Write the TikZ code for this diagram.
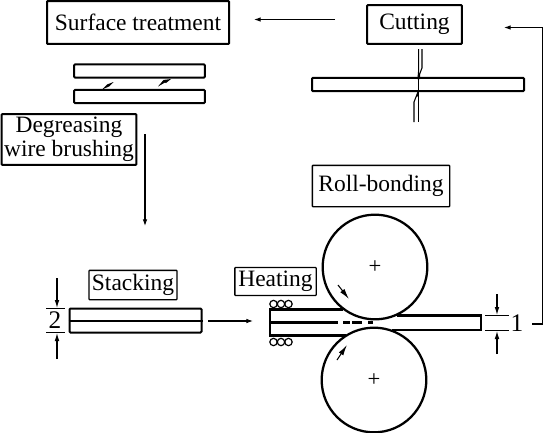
\documentclass[tikz,border=0pt]{standalone}
\usepackage{fontspec}
\setmainfont{Liberation Serif}
\usetikzlibrary{arrows.meta}
\tikzset{
  x=0.75pt,y=-0.75pt,
  lbl/.style={draw,line width=1.5pt,rounded corners=0.5pt,inner sep=0pt,anchor=center,font=\fontsize{17.6}{18}\selectfont,align=center},
  lblthin/.style={lbl,line width=1pt},
  plate/.style={draw,line width=1.5pt,rounded corners=0.8pt,inner sep=0pt},
  conn/.style={line width=0.8pt,-{Latex[length=5pt,width=3.5pt]}},
  tick/.style={line width=0.7pt},
  dim/.style={line width=0.8pt,-{Latex[length=6pt,width=3.5pt]}},
  roll/.style={draw,line width=1.7pt,circle,inner sep=0pt,minimum size=78.5pt},
  coil/.style={draw,line width=0.9pt,fill=white,circle,minimum size=5.5pt,inner sep=0pt},
  num/.style={inner sep=0pt,font=\fontsize{19}{19}\selectfont},
  cross/.style={inner sep=0pt,font=\fontsize{17}{17}\selectfont},
  slab/.style={line width=1.7pt}
}
\begin{document}
\begin{tikzpicture}
\useasboundingbox (0,0) rectangle (544,433);
% label boxes
\node[lbl,minimum width=136.5pt,minimum height=32pt] (st) at (138,22.5) {Surface treatment};
\node[lbl,minimum width=71pt,minimum height=29pt] (cut) at (414.5,24.5) {Cutting};
\node[lbl,minimum width=101pt,minimum height=38pt] (deg) at (69,139.5) {Degreasing\\wire brushing};
\node[lblthin,minimum width=103pt,minimum height=31pt] (rb) at (381,186) {Roll-bonding};
\node[lblthin,minimum width=66pt,minimum height=22pt] (stk) at (133,285) {Stacking};
\node[lblthin,minimum width=61pt,minimum height=21pt] (heat) at (275.5,281.5) {Heating};
% cleaned plates
\node[plate,minimum width=98pt,minimum height=10pt] (p1) at (139.5,71) {};
\node[plate,minimum width=98pt,minimum height=10pt] (p2) at (139.5,96.5) {};
\fill (102,89.5) -- (107,84.5) -- (113.5,82) -- (109,86.5) -- cycle;
\fill (158,86.5) -- (163.5,80) -- (171,79) -- (166,83) -- (165,82.5) -- cycle;
% cut plate and blades
\node[plate,minimum width=159pt,minimum height=10pt] (p3) at (418,84.5) {};
\draw[line width=0.8pt] (418.7,49) -- (418.7,70) -- (418,78);
\draw[line width=0.8pt] (422,49) -- (422,68) -- (418,78);
\draw[line width=0.8pt] (418.5,78) -- (418.5,122);
\draw[line width=0.8pt] (414,122) -- (414,102) -- (418,92);
\fill (417,79) -- (420,73) -- (420,79) -- cycle;
\fill (416,97) -- (418.5,90) -- (418.5,96) -- cycle;
% process arrows
\coordinate (a1) at (335,19.5);
\coordinate (a2) at (254,19.5);
\draw[conn] (a1) -- (a2);
\coordinate (b1) at (145,134);
\coordinate (b2) at (145,226);
\draw[conn] (b1) -- (b2);
\coordinate (c1) at (208,321);
\coordinate (c2) at (253,321);
\draw[conn] (c1) -- (c2);
\coordinate (d1) at (532,324);
\coordinate (d2) at (542.5,324);
\coordinate (d3) at (542.5,27.5);
\coordinate (d4) at (504,27.5);
\draw[conn] (d1) -- (d2) -- (d3) -- (d4);
% stack
\node[plate,minimum width=99pt,minimum height=18pt] (s1) at (135.5,320.5) {};
\draw[line width=1.5pt] (s1.west) -- (s1.east);
% dimension 2
\draw[tick] (46,308) -- (65,308);
\draw[tick] (46,332.5) -- (65,332.5);
\node[num] (n2) at (55,320.5) {2};
\coordinate (e1) at (57,278);
\coordinate (e2) at (57,308);
\coordinate (e3) at (57,359);
\coordinate (e4) at (57,333);
\draw[dim] (e1) -- (e2);
\draw[dim] (e3) -- (e4);
% rolls
\node[roll] (r1) at (375,267) {};
\node[roll] (r2) at (374,380) {};
\node[cross] (c3) at (375,267) {+};
\node[cross] (c4) at (374,380) {+};
% slab
\draw[slab] (343,309.5) -- (270,309.5) -- (270,335.5) -- (346,335.5);
\draw[slab] (270,322.5) -- (338,322.5);
\draw[slab] (343,322.5) -- (350,322.5);
\draw[slab] (352,322.5) -- (362,322.5);
\draw[slab] (368,322.5) -- (373,322.5);
\draw[slab] (397,315.5) -- (481,315.5) -- (481,330) -- (392,330);
% coils
\foreach \i/\x in {a/273.5,b/281,c/288.5}{
  \node[coil] (u\i) at (\x,304) {};
  \node[coil] (l\i) at (\x,342) {};
}
% roll arrows
\draw[line width=0.8pt,-{Latex[length=8pt,width=4pt]}] (338,285) -- (349,299);
\draw[line width=0.8pt,-{Latex[length=8pt,width=4pt]}] (337,360) -- (347,345);
% dimension 1
\draw[tick] (485,315.5) -- (509,315.5);
\draw[tick] (485,330) -- (509,330);
\node[num] (n1) at (517,323) {1};
\coordinate (f1) at (497,294);
\coordinate (f2) at (497,315);
\coordinate (f3) at (497,354);
\coordinate (f4) at (497,331);
\draw[dim] (f1) -- (f2);
\draw[dim] (f3) -- (f4);
\end{tikzpicture}
\end{document}
